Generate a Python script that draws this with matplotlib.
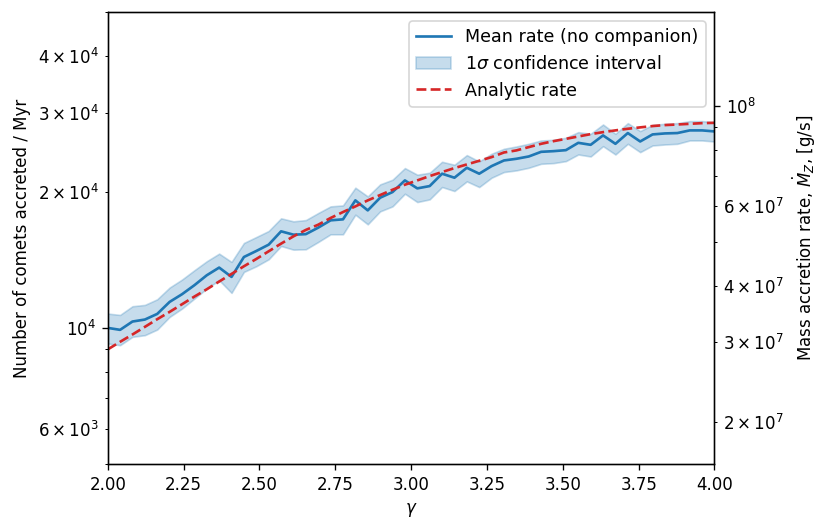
import numpy as np
import matplotlib
matplotlib.use("Agg")
import matplotlib.pyplot as plt

gamma = np.linspace(2.0, 4.0, 50)

mean_rate = [10018, 9918, 10347, 10452, 10757, 11435, 11891, 12450, 13097, 13620,
             12988, 14375, 14822, 15308, 16383, 16106, 16150, 16693, 17327, 17415,
             19180, 18228, 19443, 20011, 21235, 20390, 20631, 21972, 21528, 22646,
             21972, 22840, 23506, 23707, 23988, 24563, 24648, 24774, 25715, 25456,
             26705, 25586, 27027, 25894, 26840, 26977, 27027, 27397, 27397, 27252]

upper = [10776, 10702, 11186, 11261, 11590, 12302, 12814, 13437, 14067, 14624,
         14019, 15439, 15915, 16413, 17505, 17238, 17350, 17983, 18602, 18697,
         20461, 19573, 20810, 21310, 22610, 21861, 22080, 23350, 22997, 24155,
         23388, 24322, 24946, 25240, 25586, 26025, 26110, 26382, 27154, 26923,
         28232, 26923, 28428, 27302, 28184, 28330, 28428, 28718, 28718, 28573]

lower = [9252, 9173, 9570, 9652, 9933, 10594, 11053, 11630, 12240, 12770,
         11973, 13323, 13712, 14207, 15203, 14922, 14950, 15517, 16135, 16135,
         17830, 16976, 18137, 18602, 19840, 19017, 19277, 20527, 20117, 21128,
         20527, 21528, 22160, 22345, 22646, 23109, 23189, 23425, 24232, 23988,
         25280, 24232, 25586, 24523, 25370, 25496, 25586, 26025, 26025, 25894]

analytic = [8975, 9331, 9686, 10069, 10471, 10868, 11299, 11749, 12195, 12685,
            13188, 13712, 14231, 14799, 15387, 15970, 16500, 16945, 17536, 18074,
            18602, 19180, 19710, 20249, 20773, 21235, 21710, 22160, 22610, 23034,
            23468, 23910, 24484, 24740, 25160, 25586, 25936, 26242, 26560, 26880,
            27154, 27397, 27625, 27820, 28008, 28150, 28232, 28330, 28428, 28475]

# conversion from comets/Myr to g/s for the right axis
mass_factor = 3222.0

fig = plt.figure(figsize=(830 / 120, 529 / 120), dpi=120)
ax = fig.add_axes([107.7 / 830, 1 - 464.3 / 529, (714.5 - 107.7) / 830, (464.3 - 12.3) / 529])

ax.plot(gamma, mean_rate, color="tab:blue", lw=1.6, label="Mean rate (no companion)")
ax.fill_between(gamma, lower, upper, color="tab:blue", alpha=0.25,
                label=r"1$\sigma$ confidence interval")
ax.plot(gamma, analytic, color="tab:red", ls="--", lw=1.6, label="Analytic rate")

ax.set_yscale("log")
ax.set_xlim(2.0, 4.0)
ax.set_ylim(5e3, 5e4)
ax.set_xlabel(r"$\gamma$")
ax.set_ylabel("Number of comets accreted / Myr")
ax.legend(loc="upper right", fontsize=10.5)

ax2 = ax.twinx()
ax2.set_yscale("log")
lo, hi = ax.get_ylim()
ax2.set_ylim(lo * mass_factor, hi * mass_factor)
ax2.set_ylabel(r"Mass accretion rate, $\dot{M}_Z$, [g/s]")

fig.savefig("out.png", dpi=120)
